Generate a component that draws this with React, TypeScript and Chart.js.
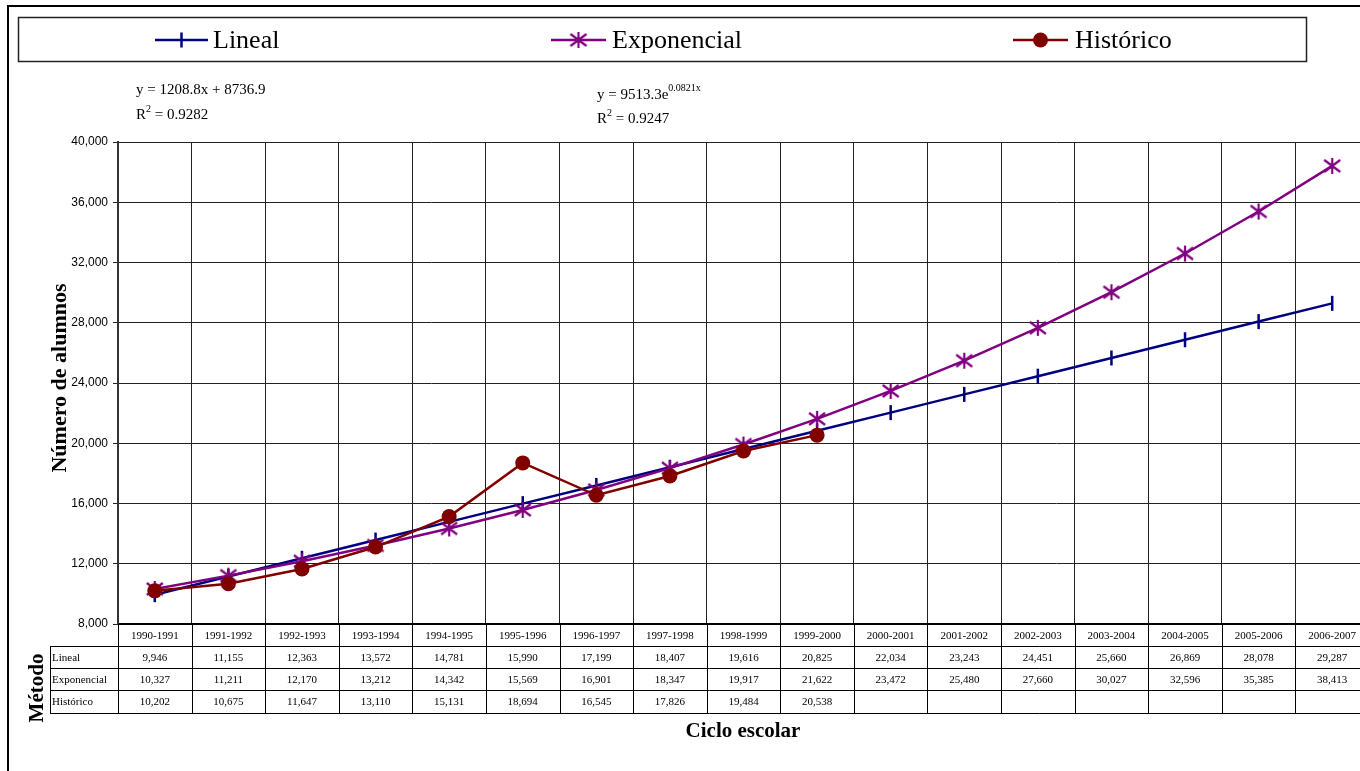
import React, { useEffect, useRef } from 'react';
import { Chart, registerables } from 'chart.js';

Chart.register(...registerables);

// ---------- data ----------
const categories = [
  '1990-1991', '1991-1992', '1992-1993', '1993-1994', '1994-1995', '1995-1996',
  '1996-1997', '1997-1998', '1998-1999', '1999-2000', '2000-2001', '2001-2002',
  '2002-2003', '2003-2004', '2004-2005', '2005-2006', '2006-2007',
];
const lineal = [9946, 11155, 12363, 13572, 14781, 15990, 17199, 18407, 19616, 20825, 22034, 23243, 24451, 25660, 26869, 28078, 29287];
const exponencial = [10327, 11211, 12170, 13212, 14342, 15569, 16901, 18347, 19917, 21622, 23472, 25480, 27660, 30027, 32596, 35385, 38413];
const historico: (number | null)[] = [10202, 10675, 11647, 13110, 15131, 18694, 16545, 17826, 19484, 20538, null, null, null, null, null, null, null];
const seriesNames = ['Lineal', 'Exponencial', 'Histórico'];
const seriesColors = ['#000080', '#800080', '#800000'];
const yMin = 8000;
const yMax = 40000;
const yStep = 4000;
const eqLineal = ['y = 1208.8x + 8736.9', '0.9282'];
const eqExp = ['y = 9513.3e', '0.0821x', '0.9247'];
const yTitle = 'Número de alumnos';
const xTitle = 'Ciclo escolar';
const tableTitle = 'Método';

const W = 1400;
const H = 771;
const SERIF = "'Liberation Serif', 'Times New Roman', serif";
const SANS = "'Liberation Sans', Arial, sans-serif";

function fmt(v: number | null) {
  return v == null ? '' : v.toLocaleString('en-US');
}

function makeStar(color: string) {
  const c = document.createElement('canvas');
  c.width = 22;
  c.height = 22;
  const g = c.getContext('2d')!;
  g.strokeStyle = color;
  g.lineWidth = 2.2;
  g.lineCap = 'butt';
  g.beginPath();
  g.moveTo(11, 3); g.lineTo(11, 19);
  g.moveTo(3, 5); g.lineTo(19, 17);
  g.moveTo(19, 5); g.lineTo(3, 17);
  g.stroke();
  return c;
}

function drawMarker(ctx: CanvasRenderingContext2D, kind: number, x: number, y: number, star: HTMLCanvasElement) {
  const col = seriesColors[kind];
  ctx.save();
  if (kind === 0) {
    ctx.strokeStyle = col;
    ctx.lineWidth = 2.5;
    ctx.beginPath();
    ctx.moveTo(x, y - 7.5);
    ctx.lineTo(x, y + 7.5);
    ctx.stroke();
  } else if (kind === 1) {
    ctx.drawImage(star, x - 11, y - 11);
  } else {
    ctx.fillStyle = col;
    ctx.beginPath();
    ctx.arc(x, y, 7.5, 0, Math.PI * 2);
    ctx.fill();
  }
  ctx.restore();
}

export default function App() {
  const ref = useRef<HTMLCanvasElement>(null);

  useEffect(() => {
    const canvas = ref.current!;
    const star = makeStar(seriesColors[1]);

    const decor = {
      id: 'decor',
      afterDraw(chart: any) {
        const ctx: CanvasRenderingContext2D = chart.ctx;
        const area = chart.chartArea;
        const xs = chart.scales.x;
        ctx.save();

        // outer frame
        ctx.strokeStyle = '#000';
        ctx.lineWidth = 2;
        ctx.strokeRect(8, 6, W + 20, H + 20);

        // legend box
        ctx.lineWidth = 1.5;
        ctx.strokeStyle = '#222';
        ctx.strokeRect(18.5, 17.5, 1288, 44);
        const legendItems = [
          { x0: 155, x1: 208, tx: 213 },
          { x0: 551, x1: 606, tx: 612 },
          { x0: 1013, x1: 1068, tx: 1075 },
        ];
        legendItems.forEach((it, i) => {
          const ly = 40;
          ctx.strokeStyle = seriesColors[i];
          ctx.lineWidth = 2.5;
          ctx.beginPath();
          ctx.moveTo(it.x0, ly);
          ctx.lineTo(it.x1, ly);
          ctx.stroke();
          drawMarker(ctx, i, (it.x0 + it.x1) / 2, ly, star);
          ctx.fillStyle = '#000';
          ctx.font = `26px ${SERIF}`;
          ctx.textAlign = 'left';
          ctx.textBaseline = 'middle';
          ctx.fillText(seriesNames[i], it.tx, ly + 1);
        });

        // equations
        ctx.fillStyle = '#000';
        ctx.textAlign = 'left';
        ctx.textBaseline = 'alphabetic';
        ctx.font = `15px ${SERIF}`;
        ctx.fillText(eqLineal[0], 136, 94);
        ctx.fillText('R', 136, 119);
        let rw = ctx.measureText('R').width;
        ctx.font = `10px ${SERIF}`;
        ctx.fillText('2', 136 + rw, 112);
        let sw = ctx.measureText('2').width;
        ctx.font = `15px ${SERIF}`;
        ctx.fillText(' = ' + eqLineal[1], 136 + rw + sw, 119);

        ctx.fillText(eqExp[0], 597, 99);
        const ew = ctx.measureText(eqExp[0]).width;
        ctx.font = `10px ${SERIF}`;
        ctx.fillText(eqExp[1], 597 + ew, 91);
        ctx.font = `15px ${SERIF}`;
        ctx.fillText('R', 597, 123);
        rw = ctx.measureText('R').width;
        ctx.font = `10px ${SERIF}`;
        ctx.fillText('2', 597 + rw, 116);
        sw = ctx.measureText('2').width;
        ctx.font = `15px ${SERIF}`;
        ctx.fillText(' = ' + eqExp[2], 597 + rw + sw, 123);

        // axis titles
        ctx.font = `bold 22px ${SERIF}`;
        ctx.textAlign = 'center';
        ctx.textBaseline = 'middle';
        ctx.save();
        ctx.translate(60, 378);
        ctx.rotate(-Math.PI / 2);
        ctx.fillText(yTitle, 0, 0);
        ctx.restore();
        ctx.font = `bold 21px ${SERIF}`;
        ctx.save();
        ctx.translate(38, 688);
        ctx.rotate(-Math.PI / 2);
        ctx.fillText(tableTitle, 0, 0);
        ctx.restore();
        ctx.font = `bold 21px ${SERIF}`;
        ctx.fillText(xTitle, 743, 732);

        // data table
        const rows = [624, 646, 668, 690, 713];
        const labelLeft = 50;
        const n = categories.length;
        const colW = (area.right - area.left) / n;
        ctx.strokeStyle = '#000';
        ctx.lineWidth = 1;
        ctx.beginPath();
        for (let r = 1; r < rows.length; r++) {
          ctx.moveTo(labelLeft, rows[r] + 0.5);
          ctx.lineTo(area.right, rows[r] + 0.5);
        }
        ctx.moveTo(labelLeft + 0.5, rows[1]);
        ctx.lineTo(labelLeft + 0.5, rows[4] + 0.5);
        for (let i = 0; i <= n; i++) {
          const bx = Math.round(area.left + i * colW) + 0.5;
          ctx.moveTo(bx, rows[0]);
          ctx.lineTo(bx, rows[4] + 0.5);
        }
        ctx.stroke();

        ctx.font = `11px ${SERIF}`;
        ctx.textBaseline = 'middle';
        ctx.textAlign = 'center';
        const series = [lineal, exponencial, historico];
        categories.forEach((c, i) => {
          const cx = xs.getPixelForValue(i);
          ctx.fillText(c, cx, (rows[0] + rows[1]) / 2 + 1);
          series.forEach((s, k) => {
            ctx.fillText(fmt(s[i] as number | null), cx, (rows[k + 1] + rows[k + 2]) / 2 + 1);
          });
        });
        ctx.textAlign = 'left';
        seriesNames.forEach((nm, k) => {
          ctx.fillText(nm, labelLeft + 2, (rows[k + 1] + rows[k + 2]) / 2 + 1);
        });

        ctx.restore();
      },
    };

    const chart = new Chart(canvas, {
      type: 'line',
      data: {
        labels: categories,
        datasets: [
          {
            label: seriesNames[0],
            data: lineal,
            borderColor: seriesColors[0],
            backgroundColor: seriesColors[0],
            borderWidth: 2.5,
            pointStyle: 'line',
            rotation: 90,
            pointRadius: 7.5,
            pointBorderWidth: 2.5,
            pointBorderColor: seriesColors[0],
            tension: 0,
            order: 3,
          },
          {
            label: seriesNames[1],
            data: exponencial,
            borderColor: seriesColors[1],
            backgroundColor: seriesColors[1],
            borderWidth: 2.5,
            pointStyle: star as any,
            pointRadius: 9,
            tension: 0,
            order: 2,
          },
          {
            label: seriesNames[2],
            data: historico,
            borderColor: seriesColors[2],
            backgroundColor: seriesColors[2],
            borderWidth: 2.5,
            pointStyle: 'circle',
            pointRadius: 7.5,
            pointBorderWidth: 0,
            spanGaps: false,
            tension: 0,
            order: 1,
          },
        ],
      },
      options: {
        responsive: false,
        animation: false,
        events: [],
        layout: { padding: { left: 0, top: 142, right: W - 1369, bottom: 0 } },
        plugins: {
          legend: { display: false },
          tooltip: { enabled: false },
          title: { display: false },
        },
        scales: {
          x: {
            type: 'category',
            offset: true,
            grid: { offset: true, color: '#222', lineWidth: 1, drawTicks: false, tickLength: 0 },
            border: { color: '#000', width: 2 },
            ticks: { display: false },
            afterFit: (s: any) => { s.height = H - 624; },
          },
          y: {
            min: yMin,
            max: yMax,
            ticks: {
              stepSize: yStep,
              color: '#000',
              font: { family: SANS, size: 12 },
              padding: 5,
              callback: (v: any) => Number(v).toLocaleString('en-US'),
            },
            grid: { color: '#222', lineWidth: 1, tickLength: 5 },
            border: { color: '#333', width: 2 },
            afterFit: (s: any) => { s.width = 118; },
          },
        },
      },
      plugins: [decor],
    });

    return () => chart.destroy();
  }, []);

  return (
    <div style={{ position: 'fixed', left: 0, top: 0, width: 1360, height: 771, overflow: 'hidden', background: '#fff' }}>
      <canvas ref={ref} width={W} height={H} style={{ width: W, height: H, display: 'block' }} />
    </div>
  );
}
